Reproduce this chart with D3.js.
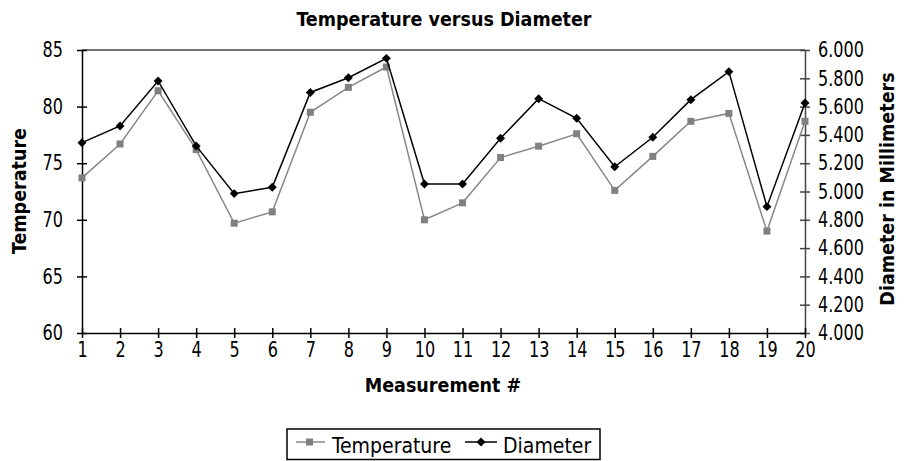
<!DOCTYPE html>
<html>
<head>
<script src="https://d3js.org/d3.v7.min.js"></script>
<style>
  body { margin: 0; background: #fff; }
  svg text { font-family: "DejaVu Sans Condensed", "DejaVu Sans", sans-serif; font-stretch: condensed; }
</style>
</head>
<body>
<svg width="907" height="461"></svg>
<script>
var measurements = d3.range(1, 21);
var temperature = [73.7, 76.7, 81.4, 76.2, 69.7, 70.7, 79.5, 81.7, 83.5, 70.0,
                   71.5, 75.5, 76.5, 77.6, 72.6, 75.6, 78.7, 79.4, 69.0, 78.7];
var diameter = [5.345, 5.463, 5.781, 5.322, 4.985, 5.030, 5.700, 5.804, 5.941, 5.053,
                5.053, 5.376, 5.656, 5.517, 5.175, 5.383, 5.649, 5.847, 4.893, 5.625];
var tempTicks = [60, 65, 70, 75, 80, 85];
var diamTicks = [4.0, 4.2, 4.4, 4.6, 4.8, 5.0, 5.2, 5.4, 5.6, 5.8, 6.0];

var plotLeft = 82, plotRight = 805, plotTop = 50, plotBottom = 333;
var squeeze = 0.85; // narrow the tick digits like the condensed original

var svg = d3.select("svg");

var x = d3.scaleLinear().domain([1, 20]).range([plotLeft, plotRight]);
var yT = d3.scaleLinear().domain([60, 85]).range([plotBottom, plotTop]);
var yD = d3.scaleLinear().domain([4, 6]).range([plotBottom, plotTop]);

// title
svg.append("text")
  .attr("x", 444).attr("y", 26)
  .attr("text-anchor", "middle")
  .attr("font-size", 19.5).attr("font-weight", "bold")
  .text("Temperature versus Diameter");

// top border
svg.append("line")
  .attr("x1", plotLeft).attr("x2", plotRight).attr("y1", plotTop).attr("y2", plotTop)
  .attr("stroke", "#444").attr("stroke-width", 1.5);

// axes
var gL = svg.append("g").attr("transform", "translate(" + plotLeft + ",0)")
  .call(d3.axisLeft(yT).tickValues(tempTicks).tickSize(5).tickSizeOuter(0).tickPadding(14));
gL.selectAll(".tick line").attr("x1", 5);
gL.selectAll(".tick text").attr("x", -19 / squeeze);

var gR = svg.append("g").attr("transform", "translate(" + plotRight + ",0)")
  .call(d3.axisRight(yD).tickValues(diamTicks).tickFormat(d3.format(".3f")).tickSize(5).tickSizeOuter(0).tickPadding(8));
gR.selectAll(".tick line").attr("x1", -5);
gR.selectAll(".tick text").attr("x", 13 / squeeze);
gR.selectAll("path, line").attr("stroke", "#444");

var gB = svg.append("g").attr("transform", "translate(0," + plotBottom + ")")
  .call(d3.axisBottom(x).tickValues(measurements).tickFormat(d3.format("d")).tickSize(5).tickSizeOuter(0).tickPadding(4));
gB.selectAll(".tick line").attr("y1", -5);

svg.selectAll(".domain, .tick line").attr("stroke-width", 1.5);
svg.selectAll(".tick text")
  .attr("font-size", 21).attr("fill", "#000")
  .attr("font-family", null)
  .attr("transform", "scale(" + squeeze + ",1)");

// axis titles
svg.append("text")
  .attr("transform", "translate(26,191) rotate(-90)")
  .attr("text-anchor", "middle")
  .attr("font-size", 19.5).attr("font-weight", "bold")
  .text("Temperature");

svg.append("text")
  .attr("transform", "translate(894,189) rotate(-90)")
  .attr("text-anchor", "middle")
  .attr("font-size", 19.5).attr("font-weight", "bold")
  .text("Diameter in Millimeters");

svg.append("text")
  .attr("x", 443).attr("y", 392)
  .attr("text-anchor", "middle")
  .attr("font-size", 19.5).attr("font-weight", "bold")
  .text("Measurement #");

// series
var tempLine = d3.line().x(function(d, i) { return x(measurements[i]); }).y(function(d) { return yT(d); });
var diamLine = d3.line().x(function(d, i) { return x(measurements[i]); }).y(function(d) { return yD(d); });

svg.append("path").datum(temperature)
  .attr("d", tempLine).attr("fill", "none")
  .attr("stroke", "#888").attr("stroke-width", 1.5);

svg.selectAll(".sq").data(temperature).enter().append("rect")
  .attr("class", "sq")
  .attr("x", function(d, i) { return x(measurements[i]) - 3.5; })
  .attr("y", function(d) { return yT(d) - 3.5; })
  .attr("width", 7).attr("height", 7)
  .attr("fill", "#808080");

svg.append("path").datum(diameter)
  .attr("d", diamLine).attr("fill", "none")
  .attr("stroke", "#000").attr("stroke-width", 1.5);

// square diamond (rotated square)
var rhombus = {
  draw: function(ctx, size) {
    var r = Math.sqrt(size / 2);
    ctx.moveTo(0, -r); ctx.lineTo(r, 0); ctx.lineTo(0, r); ctx.lineTo(-r, 0); ctx.closePath();
  }
};
var diamond = d3.symbol().type(rhombus).size(40);
svg.selectAll(".dm").data(diameter).enter().append("path")
  .attr("class", "dm")
  .attr("transform", function(d, i) { return "translate(" + x(measurements[i]) + "," + yD(d) + ")"; })
  .attr("d", diamond)
  .attr("fill", "#000");

// legend
var lg = svg.append("g");
lg.append("rect")
  .attr("x", 287).attr("y", 429).attr("width", 313).attr("height", 30.5)
  .attr("fill", "#fff").attr("stroke", "#000").attr("stroke-width", 1.5);

lg.append("line").attr("x1", 296).attr("x2", 325).attr("y1", 442).attr("y2", 442)
  .attr("stroke", "#888").attr("stroke-width", 1.5);
lg.append("rect").attr("x", 306).attr("y", 438.5).attr("width", 7).attr("height", 7).attr("fill", "#808080");
lg.append("text").attr("x", 332).attr("y", 452.5).attr("font-size", 21).text("Temperature");

lg.append("line").attr("x1", 465).attr("x2", 497).attr("y1", 442).attr("y2", 442)
  .attr("stroke", "#000").attr("stroke-width", 1.5);
lg.append("path").attr("transform", "translate(481,442)").attr("d", diamond).attr("fill", "#000");
lg.append("text").attr("x", 503).attr("y", 452.5).attr("font-size", 21).text("Diameter");
</script>
</body>
</html>
